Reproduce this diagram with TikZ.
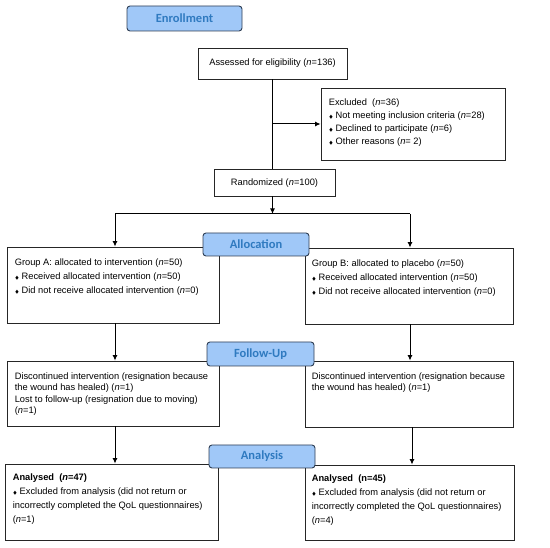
\documentclass[tikz,border=0pt]{standalone}
\usepackage{amssymb}
\usepackage{fontspec}
\setmainfont{Liberation Sans}
\newfontfamily\headfont{Carlito}
\usetikzlibrary{arrows.meta,calc}
\definecolor{headfill}{HTML}{A0C8F8}
\definecolor{headdraw}{HTML}{2F3F55}
\definecolor{headtext}{HTML}{2F7AC0}
\newcommand{\bul}{\raisebox{0.4pt}{$\scriptscriptstyle\blacklozenge$}\hspace{2.5pt}}
\begin{document}
\begin{tikzpicture}[x=1pt,y=-1pt,
  box/.style={draw=black!85,line width=0.8pt,rectangle,inner sep=0pt},
  head/.style={draw=headdraw,fill=headfill,line width=0.9pt,rounded corners=3pt,inner sep=0pt,
    minimum width=106pt,minimum height=23pt,font=\headfont\bfseries\fontsize{12.5}{14}\selectfont,text=headtext},
  txt/.style={anchor=north west,align=left,inner sep=0pt,font=\fontsize{9.3}{14}\selectfont},
  conn/.style={line width=1pt,black},
  arr/.style={conn,-{Latex[length=5.5pt,width=5pt]}}]
\useasboundingbox (0,0) rectangle (550,548);
% boxes
\node[box,minimum width=149pt,minimum height=31pt] (assess) at (272.5,63.5) {};
\node[box,minimum width=184pt,minimum height=72pt] (excl) at (413,124) {};
\node[box,minimum width=121pt,minimum height=27pt] (rand) at (274.5,182.5) {};
\node[box,minimum width=212pt,minimum height=76pt] (grpA) at (113,285) {};
\node[box,minimum width=208pt,minimum height=76pt] (grpB) at (409,286) {};
\node[box,minimum width=212pt,minimum height=65pt] (fuA) at (113,393.5) {};
\node[box,minimum width=208pt,minimum height=66pt] (fuB) at (409,394) {};
\node[box,minimum width=213pt,minimum height=76pt] (anA) at (111.5,502) {};
\node[box,minimum width=209pt,minimum height=75pt] (anB) at (409.5,502.5) {};
% texts
\node[anchor=center,inner sep=0pt,font=\fontsize{9.3}{14}\selectfont] (assesst) at (272.5,63.5) {Assessed for eligibility (\textit{n}=136)};
\node[anchor=center,inner sep=0pt,font=\fontsize{9.3}{14}\selectfont] (randt) at (274.5,183) {Randomized (\textit{n}=100)};
\node[txt,font=\fontsize{9.3}{13}\selectfont] (exclt) at ($(excl.north west)+(8,11)$) {Excluded\ \ (\textit{n}=36)\\
\bul Not meeting inclusion criteria (\textit{n}=28)\\
\bul Declined to participate (\textit{n}=6)\\
\bul Other reasons (\textit{n}= 2)};
\node[txt] (grpAt) at ($(grpA.north west)+(8,12)$) {Group A: allocated to intervention (\textit{n}=50)\\
\bul Received allocated intervention (\textit{n}=50)\\
\bul Did not receive allocated intervention (\textit{n}=0)};
\node[txt] (grpBt) at ($(grpB.north west)+(7,12)$) {Group B: allocated to placebo (\textit{n}=50)\\
\bul Received allocated intervention (\textit{n}=50)\\
\bul Did not receive allocated intervention (\textit{n}=0)};
\node[txt,font=\fontsize{9.3}{11.3}\selectfont] (fuAt) at ($(fuA.north west)+(8,12)$) {Discontinued intervention (resignation because\\
the wound has healed) (\textit{n}=1)\\
Lost to follow-up (resignation due to moving)\\
(\textit{n}=1)};
\node[txt,font=\fontsize{9.3}{11.3}\selectfont] (fuBt) at ($(fuB.north west)+(7,12)$) {Discontinued intervention (resignation because\\
the wound has healed) (\textit{n}=1)};
\node[txt] (anAt) at ($(anA.north west)+(8,10)$) {\textbf{Analysed\ \ (\textit{n}=47)}\\
\bul Excluded from analysis (did not return or\\
incorrectly completed the QoL questionnaires)\\
(\textit{n}=1)};
\node[txt] (anBt) at ($(anB.north west)+(7,10)$) {\textbf{Analysed\ \ (n=45)}\\
\bul Excluded from analysis (did not return or\\
incorrectly completed the QoL questionnaires)\\
(\textit{n}=4)};
% connectors
\coordinate (split) at (272.5,214);
\coordinate (sA) at (115,214);
\coordinate (sB) at (410,214);
\draw[conn] (assess.south) -- (assess.south |- rand.north);
\draw[arr] (assess.south |- excl.west) -- (excl.west);
\draw[arr] (assess.south |- rand.south) -- (split);
\draw[conn] (sA) -- (sB);
\draw[arr] (sA) -- (sA |- grpA.north);
\draw[arr] (sB) -- (sB |- grpB.north);
\draw[arr] (sA |- grpA.south) -- (sA |- fuA.north);
\draw[arr] (sB |- grpB.south) -- (sB |- fuB.north);
\draw[arr] (sA |- fuA.south) -- (sA |- anA.north);
\draw[arr] ($(sB |- fuB.south)+(2,0)$) -- ($(sB |- anB.north)+(2,0)$);
% headings
\node[head,minimum width=115pt,minimum height=25pt] (enr) at (184.5,18.5) {Enrollment};
\node[head] (alloc) at (256,244.5) {Allocation};
\node[head,minimum width=107pt,minimum height=24pt] (fu) at (260.5,354) {Follow-Up};
\node[head] (an) at (262,456.5) {Analysis};
\end{tikzpicture}
\end{document}
